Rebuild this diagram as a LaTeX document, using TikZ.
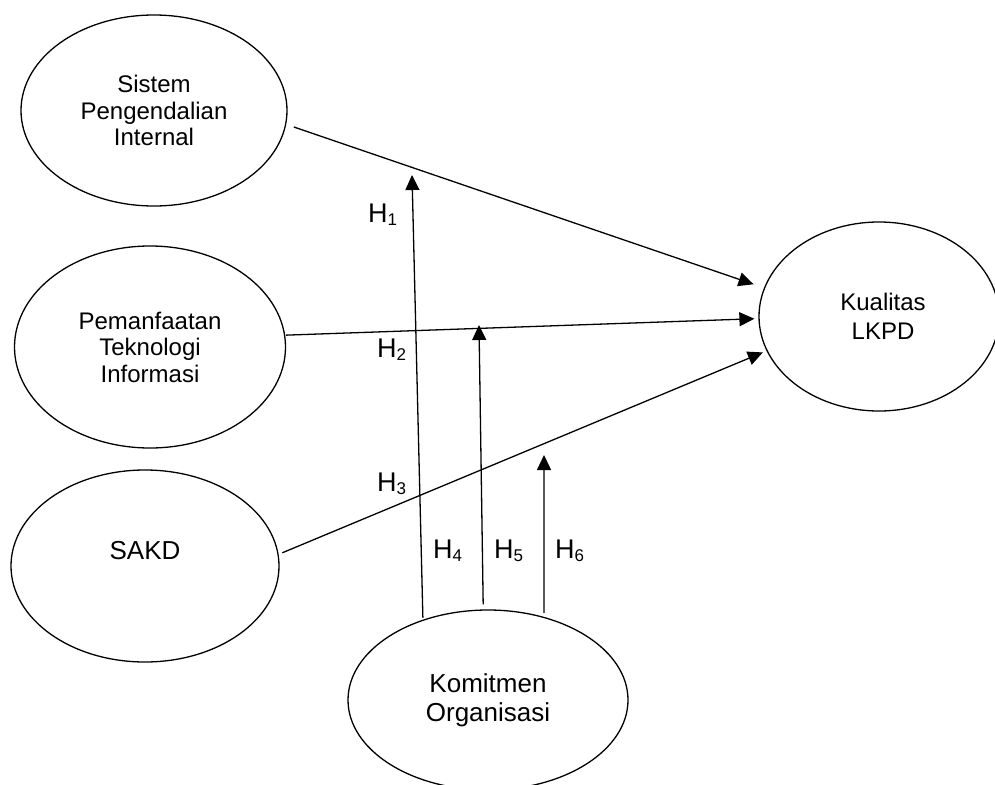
\documentclass[tikz,border=0pt]{standalone}
\usepackage{fontspec}
\setmainfont{Liberation Sans}
\usetikzlibrary{shapes.geometric,arrows.meta}
\newcommand{\hyp}[1]{H\raisebox{-3pt}{\fontsize{17}{17}\selectfont #1}}
\begin{document}
\begin{tikzpicture}[x=1pt,y=-1pt,
  elli/.style={draw,ellipse,line width=1.3pt,inner sep=0pt,align=center},
  arr/.style={line width=1.3pt,-{Triangle[length=15pt,width=14pt]}},
  hlab/.style={font=\fontsize{27}{30}\selectfont,inner sep=0pt,anchor=base west}]
\useasboundingbox (0,0) rectangle (995,784);
% constructs
\node[elli,minimum width=266pt,minimum height=191pt,font=\fontsize{24}{26.5}\selectfont] (sist) at (154,110.5) {Sistem\\Pengendalian\\Internal};
\node[elli,minimum width=271pt,minimum height=202pt,font=\fontsize{24}{26.5}\selectfont] (pema) at (150,347) {Pemanfaatan\\Teknologi\\Informasi};
\node[elli,minimum width=268pt,minimum height=192pt,
  label={[font=\fontsize{26}{29}\selectfont,yshift=15pt]center:SAKD}] (sakd) at (145,566) {};
\node[elli,minimum width=240pt,minimum height=189pt,
  label={[font=\fontsize{24}{29}\selectfont,align=center,xshift=4pt]center:Kualitas\\LKPD}] (kual) at (879,316.5) {};
\node[elli,minimum width=280pt,minimum height=180pt,font=\fontsize{26}{29}\selectfont] (komi) at (488,700) {Komitmen\\Organisasi};
% direct effects
\draw[arr,shorten <=8pt,shorten >=11pt] (sist.-6.8) -- (kual.166.8);
\draw[arr,shorten <=1pt,shorten >=4pt] (pema.5.9) -- (kual.181);
\draw[arr,shorten <=4pt,shorten >=4pt] (sakd.5.4) -- (kual.197);
% moderation
\coordinate (t4) at (412,175);
\coordinate (t5) at (479,325);
\coordinate (t6) at (544,455);
\draw[arr,shorten <=2pt] (komi.129.7) -- (t4);
\draw[arr,shorten <=5pt] (komi.93.6) -- (t5);
\draw[arr,shorten <=4pt] (komi.56.4) -- (t6);
% labels
\node[hlab] (h1) at (368,222) {\hyp{1}};
\node[hlab] (h2) at (377,357) {\hyp{2}};
\node[hlab] (h3) at (377,491) {\hyp{3}};
\node[hlab] (h4) at (433,558) {\hyp{4}};
\node[hlab] (h5) at (494,558) {\hyp{5}};
\node[hlab] (h6) at (555,558) {\hyp{6}};
\end{tikzpicture}
\end{document}
